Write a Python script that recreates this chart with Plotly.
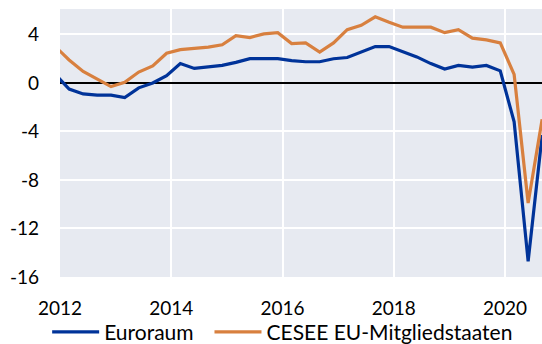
import pandas as pd
import plotly.graph_objects as go

# Real GDP growth, year-on-year in %, quarterly
quarters = [
    "2011Q4",
    "2012Q1", "2012Q2", "2012Q3", "2012Q4",
    "2013Q1", "2013Q2", "2013Q3", "2013Q4",
    "2014Q1", "2014Q2", "2014Q3", "2014Q4",
    "2015Q1", "2015Q2", "2015Q3", "2015Q4",
    "2016Q1", "2016Q2", "2016Q3", "2016Q4",
    "2017Q1", "2017Q2", "2017Q3", "2017Q4",
    "2018Q1", "2018Q2", "2018Q3", "2018Q4",
    "2019Q1", "2019Q2", "2019Q3", "2019Q4",
    "2020Q1", "2020Q2", "2020Q3",
]

euroraum = [
    0.7,
    -0.5, -0.9, -1.0, -1.0,
    -1.2, -0.4, 0.0, 0.6,
    1.6, 1.2, 1.3, 1.45,
    1.7, 2.0, 2.0, 2.0,
    1.85, 1.75, 1.75, 2.0,
    2.1, 2.55, 3.0, 3.0,
    2.55, 2.15, 1.6, 1.15,
    1.45, 1.3, 1.45, 1.0,
    -3.2, -14.7, -4.3,
]

cesee = [
    3.0,
    1.9, 0.95, 0.3, -0.3,
    0.05, 0.9, 1.4, 2.45,
    2.75, 2.85, 2.95, 3.15,
    3.9, 3.75, 4.05, 4.15,
    3.25, 3.3, 2.55, 3.3,
    4.4, 4.75, 5.45, 5.0,
    4.6, 4.6, 4.6, 4.15,
    4.4, 3.7, 3.55, 3.3,
    0.7, -9.9, -3.0,
]

y_ticks = [4, 0, -4, -8, -12, -16]
x_ticks = ["2012", "2014", "2016", "2018", "2020"]

# each quarter is placed at the start of its last month
dates = pd.PeriodIndex(quarters, freq="Q").to_timestamp(how="start") + pd.DateOffset(months=2)

BLUE = "#003399"
ORANGE = "#D8803F"
FONT = "Lato, 'Open Sans', sans-serif"

fig = go.Figure()
fig.add_trace(go.Scatter(x=dates, y=euroraum, mode="lines", name="Euroraum",
                         line=dict(color=BLUE, width=3.2), legend="legend"))
fig.add_trace(go.Scatter(x=dates, y=cesee, mode="lines", name="CESEE EU-Mitgliedstaaten",
                         line=dict(color=ORANGE, width=3.2), legend="legend2"))

legend_style = dict(orientation="h", xref="container", yref="container",
                    xanchor="left", y=0.094, yanchor="top",
                    font=dict(size=21), itemwidth=47,
                    bgcolor="rgba(0,0,0,0)")

fig.update_layout(
    width=542, height=344,
    margin=dict(l=60, r=0, t=9, b=67, autoexpand=False),
    paper_bgcolor="white",
    plot_bgcolor="#E7EAF1",
    font=dict(family=FONT, size=19, color="black"),
    showlegend=True,
    legend=dict(x=0.087, **legend_style),
    legend2=dict(x=0.3865, **legend_style),
)

fig.update_xaxes(
    type="date",
    range=["2012-01-01", "2020-08-31"],
    tickvals=[pd.Timestamp(f"{y}-01-01") for y in x_ticks],
    ticktext=x_ticks,
    showgrid=True, gridcolor="white", gridwidth=2,
    zeroline=False, showline=False, ticks="", ticklabelstandoff=18,
)
fig.update_yaxes(
    range=[-16, 6.1],
    tickvals=y_ticks,
    ticktext=[str(v) for v in y_ticks],
    showgrid=True, gridcolor="white", gridwidth=2,
    zeroline=True, zerolinecolor="black", zerolinewidth=1.5,
    showline=False, ticks="", ticklabelstandoff=20,
)

fig.write_html("out.html")
